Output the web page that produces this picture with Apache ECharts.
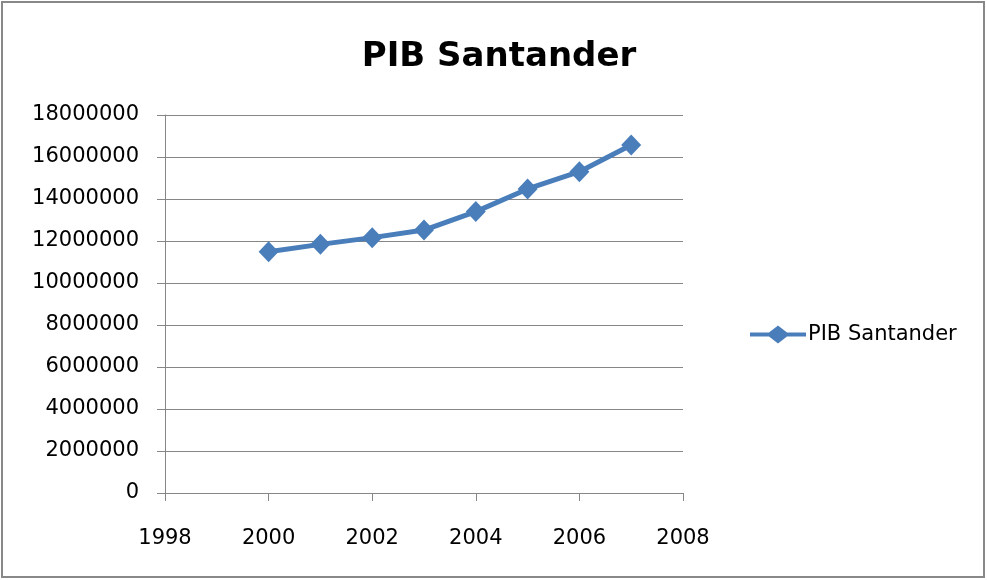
<!DOCTYPE html>
<html>
<head>
<meta charset="utf-8">
<script src="https://cdn.jsdelivr.net/npm/echarts@6/dist/echarts.min.js"></script>
<style>
html,body{margin:0;padding:0;background:#fff;}
#chart{width:987px;height:580px;}
</style>
</head>
<body>
<div id="chart"></div>
<script>
const titleText = 'PIB Santander';
const seriesName = 'PIB Santander';
const years = [2000, 2001, 2002, 2003, 2004, 2005, 2006, 2007];
const values = [11490000, 11840000, 12160000, 12520000, 13400000, 14480000, 15300000, 16570000];
const xTicks = [1998, 2000, 2002, 2004, 2006, 2008];
const yTicks = [0, 2000000, 4000000, 6000000, 8000000, 10000000, 12000000, 14000000, 16000000, 18000000];

const chart = echarts.init(document.getElementById('chart'), null, {renderer: 'canvas'});
const font = 'DejaVu Sans';
const gray = '#868686';
const blue = '#4a7ebb';
const legendIcon = 'path://M0,7 L19,7 L28,0 L37,7 L56,7 L56,11 L37,11 L28,18 L19,11 L0,11 Z';
const option = {
  backgroundColor: '#fff',
  animation: false,
  title: {
    text: titleText,
    left: 494, textAlign: 'center',
    top: 35,
    textStyle: {fontFamily: font, fontSize: 34, fontWeight: 'bold', color: '#000'}
  },
  legend: {
    left: 745, top: 319,
    itemWidth: 56, itemHeight: 18, itemGap: 5,
    itemStyle: {color: blue},
    textStyle: {fontFamily: font, fontSize: 21, color: '#000', padding: [0,0,0,-3]},
    data: [{name: seriesName, icon: legendIcon}]
  },
  grid: {left: 165, right: 304, top: 115, bottom: 87, containLabel: false},
  xAxis: {
    type: 'value',
    min: xTicks[0], max: xTicks[xTicks.length - 1], interval: 2,
    axisLine: {show: true, onZero: false, lineStyle: {color: gray, width: 1}},
    axisTick: {show: true, length: 8, lineStyle: {color: gray}},
    splitLine: {show: false},
    axisLabel: {margin: 35, fontFamily: font, fontSize: 21, color: '#000',
      formatter: v => String(v)}
  },
  yAxis: {
    type: 'value',
    min: yTicks[0], max: yTicks[yTicks.length - 1], interval: 2000000,
    axisLine: {show: true, lineStyle: {color: gray, width: 1}},
    axisTick: {show: true, length: 8, lineStyle: {color: gray}},
    splitLine: {show: true, lineStyle: {color: gray, width: 1}},
    axisLabel: {margin: 26, fontFamily: font, fontSize: 21, color: '#000',
      formatter: v => String(v)}
  },
  series: [{
    name: seriesName,
    type: 'line',
    data: years.map((y, i) => [y, values[i]]),
    smooth: false,
    symbol: 'diamond',
    symbolSize: [20, 21],
    lineStyle: {color: blue, width: 5},
    itemStyle: {color: blue}
  }],
  graphic: [{
    type: 'rect',
    shape: {x: 2, y: 2, width: 982, height: 575},
    style: {fill: 'none', stroke: '#888', lineWidth: 2},
    silent: true, z: -1
  }]
};
chart.setOption(option);
</script>
</body>
</html>
